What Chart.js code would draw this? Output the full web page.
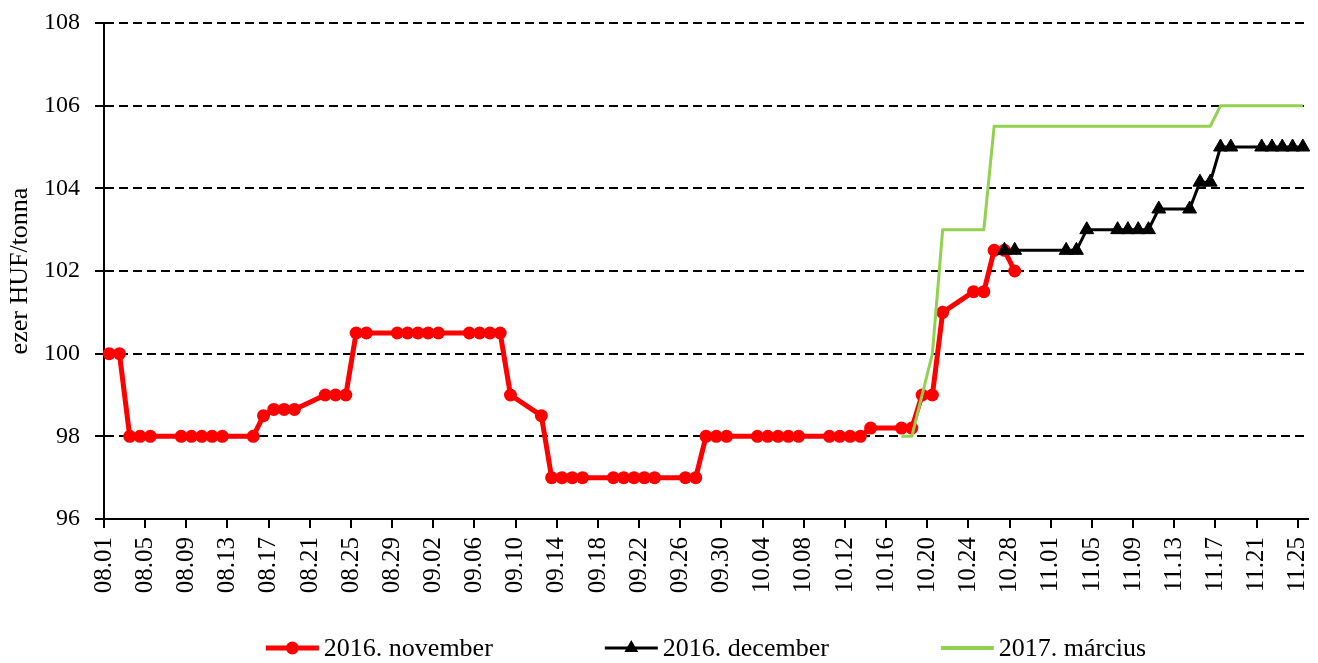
<!DOCTYPE html>
<html>
<head>
<meta charset="utf-8">
<script src="https://cdn.jsdelivr.net/npm/chart.js@4.4.0/dist/chart.umd.min.js"></script>
<style>
  html, body { margin: 0; padding: 0; background: #fff; }
  #wrap { width: 1318px; height: 663px; }
</style>
</head>
<body>
<div id="wrap"><canvas id="priceChart"></canvas></div>
<script>
// trading days (weekdays, 10.31 and 11.01 are holidays)
const tradeDays = [
  "08.01", "08.02", "08.03", "08.04", "08.05", "08.08", "08.09", "08.10", "08.11", "08.12",
  "08.15", "08.16", "08.17", "08.18", "08.19", "08.22", "08.23", "08.24", "08.25", "08.26",
  "08.29", "08.30", "08.31",
  "09.01", "09.02", "09.05", "09.06", "09.07", "09.08", "09.09", "09.12", "09.13", "09.14",
  "09.15", "09.16", "09.19", "09.20", "09.21", "09.22", "09.23", "09.26", "09.27", "09.28",
  "09.29", "09.30",
  "10.03", "10.04", "10.05", "10.06", "10.07", "10.10", "10.11", "10.12", "10.13", "10.14",
  "10.17", "10.18", "10.19", "10.20", "10.21", "10.24", "10.25", "10.26", "10.27", "10.28",
  "11.02", "11.03", "11.04", "11.07", "11.08", "11.09", "11.10", "11.11", "11.14", "11.15",
  "11.16", "11.17", "11.18", "11.21", "11.22", "11.23", "11.24", "11.25",
];

const nov2016 = [
  100, 100, 98, 98, 98, 98, 98, 98, 98, 98,
  98, 98.5, 98.65, 98.65, 98.65, 99, 99, 99, 100.5, 100.5,
  100.5, 100.5, 100.5,
  100.5, 100.5, 100.5, 100.5, 100.5, 100.5, 99, 98.5, 97, 97,
  97, 97, 97, 97, 97, 97, 97, 97, 97, 98,
  98, 98,
  98, 98, 98, 98, 98, 98, 98, 98, 98, 98.2,
  98.2, 98.2, 99, 99, 101, 101.5, 101.5, 102.5, 102.5, 102,
  null, null, null, null, null, null, null, null, null, null,
  null, null, null, null, null, null, null, null,
];

const dec2016 = [
  null, null, null, null, null, null, null, null, null, null,
  null, null, null, null, null, null, null, null, null, null,
  null, null, null,
  null, null, null, null, null, null, null, null, null, null,
  null, null, null, null, null, null, null, null, null, null,
  null, null,
  null, null, null, null, null, null, null, null, null, null,
  null, null, null, null, null, null, null, null, 102.5, 102.5,
  102.5, 102.5, 103, 103, 103, 103, 103, 103.5, 103.5, 104.15,
  104.15, 105, 105, 105, 105, 105, 105, 105,
];

const mar2017 = [
  null, null, null, null, null, null, null, null, null, null,
  null, null, null, null, null, null, null, null, null, null,
  null, null, null,
  null, null, null, null, null, null, null, null, null, null,
  null, null, null, null, null, null, null, null, null, null,
  null, null,
  null, null, null, null, null, null, null, null, null, null,
  98, 98, 99, 100, 103, 103, 103, 105.5, 105.5, 105.5,
  105.5, 105.5, 105.5, 105.5, 105.5, 105.5, 105.5, 105.5, 105.5, 105.5,
  105.5, 106, 106, 106, 106, 106, 106, 106,
];

const yTicks = [96, 98, 100, 102, 104, 106, 108];

// every calendar day of the period is a slot on the axis
const calendarDays = [];
for (let d = new Date(Date.UTC(2016, 7, 1)); d <= new Date(Date.UTC(2016, 10, 25)); d.setUTCDate(d.getUTCDate() + 1)) {
  const mm = String(d.getUTCMonth() + 1).padStart(2, "0");
  const dd = String(d.getUTCDate()).padStart(2, "0");
  calendarDays.push(mm + "." + dd);
}

function toPoints(values) {
  return tradeDays
    .map((day, i) => ({ x: day, y: values[i] }))
    .filter((p) => p.y !== null);
}

const serif = '"Liberation Serif", "Times New Roman", serif';
Chart.defaults.font.family = serif;
Chart.defaults.color = "#000";

// legend drawn by hand: line sample with marker, like the office chart
const bottomLegend = {
  id: "bottomLegend",
  afterDraw(chart) {
    const ctx = chart.ctx;
    const sample = 53;
    const gap = 5;
    const spacing = 112;
    ctx.save();
    ctx.font = "26px " + serif;
    const items = chart.data.datasets;
    const widths = items.map((ds) => sample + gap + ctx.measureText(ds.label).width);
    const total = widths.reduce((a, b) => a + b, 0) + spacing * (items.length - 1);
    let x = (chart.chartArea.left + chart.chartArea.right) / 2 - total / 2;
    const y = chart.height - 15;
    items.forEach((ds, i) => {
      ctx.strokeStyle = ds.borderColor;
      ctx.lineWidth = ds.pointRadius > 0 ? ds.borderWidth : 4;
      ctx.lineCap = "butt";
      ctx.beginPath();
      ctx.moveTo(x, y);
      ctx.lineTo(x + sample, y);
      ctx.stroke();
      const cx = x + sample / 2;
      ctx.fillStyle = ds.borderColor;
      if (ds.pointStyle === "circle" && ds.pointRadius > 0) {
        ctx.beginPath();
        ctx.arc(cx, y, ds.pointRadius, 0, Math.PI * 2);
        ctx.fill();
      } else if (ds.pointStyle === "triangle") {
        const r = ds.pointRadius;
        ctx.beginPath();
        ctx.moveTo(cx, y - r);
        ctx.lineTo(cx + r * 0.866, y + r / 2);
        ctx.lineTo(cx - r * 0.866, y + r / 2);
        ctx.closePath();
        ctx.fill();
      }
      ctx.fillStyle = "#000";
      ctx.textBaseline = "middle";
      ctx.textAlign = "left";
      ctx.fillText(ds.label, x + sample + gap, y + 1);
      x += widths[i] + spacing;
    });
    ctx.restore();
  },
};

const ctx = document.getElementById("priceChart").getContext("2d");
const priceChart = new Chart(ctx, {
  type: "line",
  data: {
    labels: calendarDays,
    datasets: [
      {
        label: "2016. november",
        data: toPoints(nov2016),
        borderColor: "#ff0000",
        backgroundColor: "#ff0000",
        borderWidth: 5,
        pointStyle: "circle",
        pointRadius: 6.5,
        pointBorderWidth: 0,
        pointBackgroundColor: "#ff0000",
        pointBorderColor: "#ff0000",
        borderJoinStyle: "round",
        order: 2,
        clip: false,
      },
      {
        label: "2016. december",
        data: toPoints(dec2016),
        borderColor: "#000000",
        backgroundColor: "#000000",
        borderWidth: 3,
        pointStyle: "triangle",
        pointRadius: 8,
        pointBorderWidth: 1,
        pointBackgroundColor: "#000000",
        pointBorderColor: "#000000",
        borderJoinStyle: "round",
        order: 1,
        clip: false,
      },
      {
        label: "2017. március",
        data: toPoints(mar2017),
        borderColor: "#92d050",
        backgroundColor: "#92d050",
        borderWidth: 3,
        pointStyle: "line",
        pointRadius: 0,
        borderJoinStyle: "round",
        order: 0,
        clip: false,
      },
    ],
  },
  options: {
    responsive: true,
    maintainAspectRatio: false,
    animation: false,
    events: [],
    layout: {
      padding: { top: 23, right: 10, bottom: 54, left: 0 },
    },
    plugins: {
      legend: { display: false },
      tooltip: { enabled: false },
    },
    scales: {
      x: {
        offset: true,
        grid: {
          offset: true,
          drawOnChartArea: false,
          lineWidth: 2,
          tickLength: 9,
          tickColor: (c) => (c.index % 4 === 0 ? "#000" : "rgba(0,0,0,0)"),
        },
        border: { color: "#000", width: 2 },
        ticks: {
          autoSkip: false,
          maxRotation: 90,
          minRotation: 90,
          padding: 9,
          labelOffset: -5,
          font: { size: 25 },
          callback: (value, index) => (index % 4 === 0 ? calendarDays[index] : ""),
        },
        afterFit: (scale) => {
          scale.height = 90;
          scale.paddingLeft = 0;
          scale.paddingRight = 0;
        },
      },
      y: {
        min: yTicks[0],
        max: yTicks[yTicks.length - 1],
        afterBuildTicks: (scale) => {
          scale.ticks = yTicks.map((v) => ({ value: v }));
        },
        grid: {
          color: "#000",
          lineWidth: 2,
          tickLength: 9,
          tickColor: "#000",
          tickBorderDash: [],
        },
        border: { color: "#000", width: 2, dash: [9, 5] },
        ticks: {
          padding: 15,
          font: { size: 24 },
        },
        title: {
          display: true,
          text: "ezer HUF/tonna",
          font: { size: 26 },
          padding: { top: 5, bottom: 0 },
        },
        afterFit: (scale) => {
          scale.width = 104;
          scale.paddingTop = 0;
          scale.paddingBottom = 0;
        },
      },
    },
  },
  plugins: [bottomLegend],
});
</script>
</body>
</html>
